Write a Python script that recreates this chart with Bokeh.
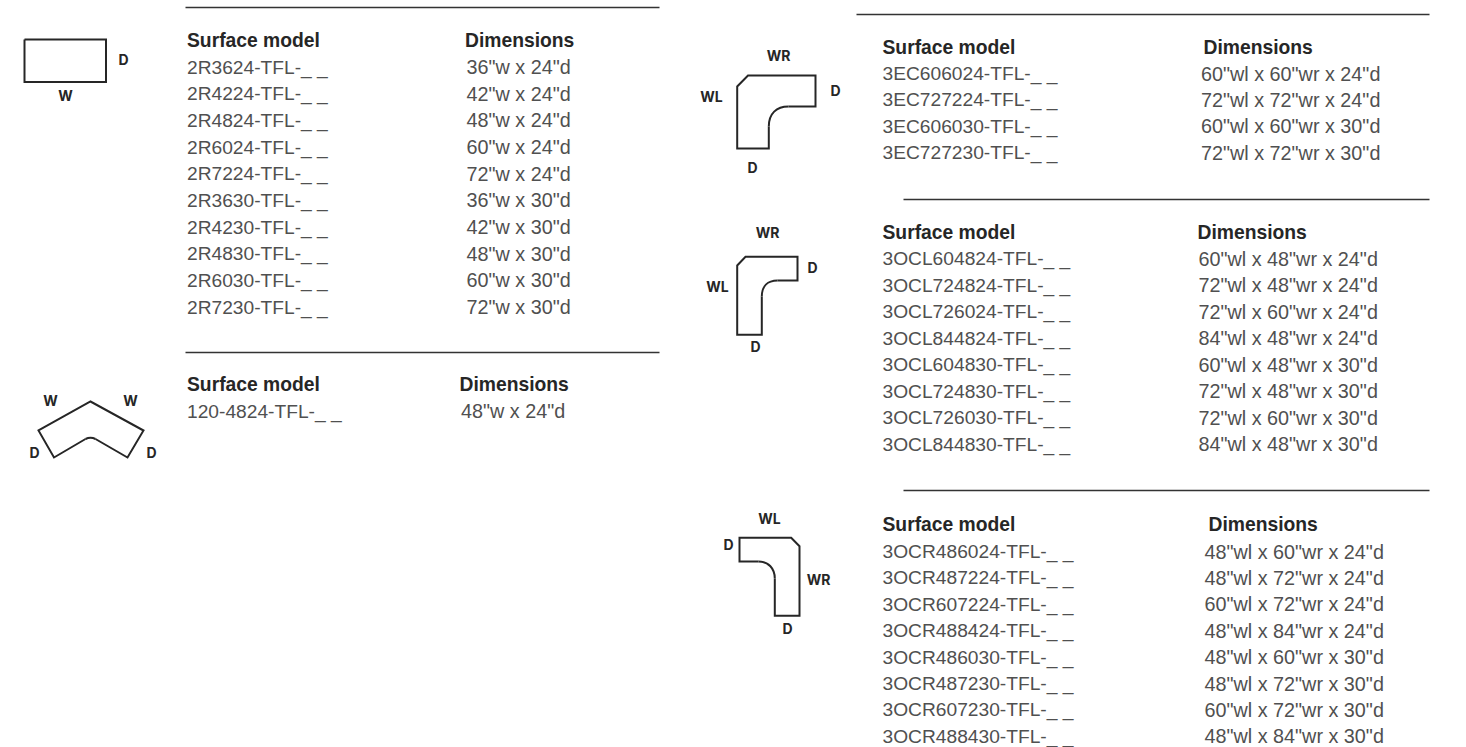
from bokeh.plotting import figure
from bokeh.embed import file_html
from bokeh.resources import INLINE
from bokeh.models import Range1d
from bokeh.core.properties import value

HEADER_MODEL = "Surface model"
HEADER_DIM = "Dimensions"
SUFFIX = "-TFL-_ _"

models_2r = ["2R3624", "2R4224", "2R4824", "2R6024", "2R7224", "2R3630", "2R4230", "2R4830", "2R6030", "2R7230"]
dims_2r = ['36"w x 24"d', '42"w x 24"d', '48"w x 24"d', '60"w x 24"d', '72"w x 24"d',
           '36"w x 30"d', '42"w x 30"d', '48"w x 30"d', '60"w x 30"d', '72"w x 30"d']
models_120 = ["120-4824"]
dims_120 = ['48"w x 24"d']
models_3ec = ["3EC606024", "3EC727224", "3EC606030", "3EC727230"]
dims_3ec = ['60"wl x 60"wr x 24"d', '72"wl x 72"wr x 24"d', '60"wl x 60"wr x 30"d', '72"wl x 72"wr x 30"d']
models_3ocl = ["3OCL604824", "3OCL724824", "3OCL726024", "3OCL844824", "3OCL604830", "3OCL724830", "3OCL726030", "3OCL844830"]
dims_3ocl = ['60"wl x 48"wr x 24"d', '72"wl x 48"wr x 24"d', '72"wl x 60"wr x 24"d', '84"wl x 48"wr x 24"d',
             '60"wl x 48"wr x 30"d', '72"wl x 48"wr x 30"d', '72"wl x 60"wr x 30"d', '84"wl x 48"wr x 30"d']
models_3ocr = ["3OCR486024", "3OCR487224", "3OCR607224", "3OCR488424", "3OCR486030", "3OCR487230", "3OCR607230", "3OCR488430"]
dims_3ocr = ['48"wl x 60"wr x 24"d', '48"wl x 72"wr x 24"d', '60"wl x 72"wr x 24"d', '48"wl x 84"wr x 24"d',
             '48"wl x 60"wr x 30"d', '48"wl x 72"wr x 30"d', '60"wl x 72"wr x 30"d', '48"wl x 84"wr x 30"d']

# (models, dims, x model, x dim header, x dim values, y header, y first row, row gap)
tables = [
    (models_2r, dims_2r, 186.5, 464.5, 466, 40, 66.5, 26.67),
    (models_120, dims_120, 186.5, 459, 460.5, 384, 410.5, 26.67),
    (models_3ec, dims_3ec, 882, 1203, 1200.5, 47, 73, 26.4),
    (models_3ocl, dims_3ocl, 882, 1197, 1198, 232, 258, 26.5),
    (models_3ocr, dims_3ocr, 882, 1208, 1204, 524, 551, 26.4),
]
rules = [(185, 659, 7), (185, 659, 352), (856, 1429, 14), (903, 1429, 199), (903, 1429, 490)]

# outlines: straight runs, then curves (x0, y0, cx0, cy0, cx1, cy1, x1, y1)
outline_rect = ([24, 105.5, 105.5, 24, 24], [39, 39, 81.5, 81.5, 39])
outline_120 = ([95, 127, 143, 90, 38, 53.5, 85], [438.5, 457, 430, 401, 430, 457, 438.5])
curve_120 = [(85, 438.5, 88, 437, 92, 437, 95, 438.5)]
outline_3ec = ([788, 815, 815, 747.5, 736.7, 736.7, 768.3, 768.3], [106, 106, 75, 75, 86, 148, 148, 126])
curve_3ec = [(768.3, 126, 768.3, 113, 776, 106, 788, 106)]
outline_3ocl = ([777, 797, 797, 745, 736.7, 736.7, 761.3, 761.3], [280, 280, 256.3, 256.3, 265, 334.3, 334.3, 296])
curve_3ocl = [(761.3, 296, 761.3, 286, 767, 280, 777, 280)]
outline_3ocr = ([758, 739, 739, 790.7, 799, 799, 774.3, 774.3], [561, 561, 537.3, 537.3, 545.7, 615.3, 615.3, 578])
curve_3ocr = [(774.3, 578, 774.3, 568, 768, 561, 758, 561)]
outlines = [outline_rect, outline_120, outline_3ec, outline_3ocl, outline_3ocr]
curves = curve_120 + curve_3ec + curve_3ocl + curve_3ocr

dim_labels = [
    ("D", 123, 58.5), ("W", 65, 95),
    ("W", 50, 400), ("W", 130, 400), ("D", 34, 452), ("D", 151, 452),
    ("WR", 778, 55), ("WL", 711, 96), ("D", 835, 90), ("D", 752, 167),
    ("WR", 767, 232), ("WL", 717, 286), ("D", 812, 267), ("D", 755, 346),
    ("WL", 769, 518), ("D", 728, 544), ("WR", 818, 579), ("D", 787, 628),
]

FONT = "Liberation Sans"
INK = "#505050"
DARK = "#262626"

W, H = 1450, 747
p = figure(width=W, height=H, output_backend="svg", toolbar_location=None,
           x_range=Range1d(0, W), y_range=Range1d(H, 0),
           min_border=0, outline_line_color=None)
p.axis.visible = False
p.grid.visible = False

for x0, x1, y in rules:
    p.line([x0, x1], [y, y], line_color="#333333", line_width=1.3)

for xs, ys in outlines:
    p.line(xs, ys, line_color=DARK, line_width=2, line_join="miter")
for x0, y0, cx0, cy0, cx1, cy1, x1, y1 in curves:
    p.bezier(x0=[x0], y0=[y0], cx0=[cx0], cy0=[cy0], cx1=[cx1], cy1=[cy1], x1=[x1], y1=[y1],
             line_color=DARK, line_width=2)

p.text([l[1] for l in dim_labels], [l[2] for l in dim_labels], text=[l[0] for l in dim_labels],
       text_font=value("Inter"), text_font_style="bold", text_font_size="14px",
       text_align="center", text_baseline="middle", text_color=DARK)

for models, dims, xm, xdh, xd, yh, y0, gap in tables:
    p.text([xm, xdh], [yh, yh], text=[HEADER_MODEL, HEADER_DIM], text_font=value(FONT),
           text_font_style="bold", text_font_size="19.3px", text_align="left",
           text_baseline="middle", text_color=DARK)
    ys = [y0 + i * gap for i in range(len(models))]
    p.text([xm] * len(models), ys, text=[m + SUFFIX for m in models], text_font=value(FONT),
           text_font_size="19.2px", text_align="left", text_baseline="middle", text_color=INK)
    p.text([xd] * len(dims), ys, text=dims, text_font=value(FONT),
           text_font_size="19.8px", text_align="left", text_baseline="middle", text_color=INK)

open("out.html", "w").write(file_html(p, INLINE))
